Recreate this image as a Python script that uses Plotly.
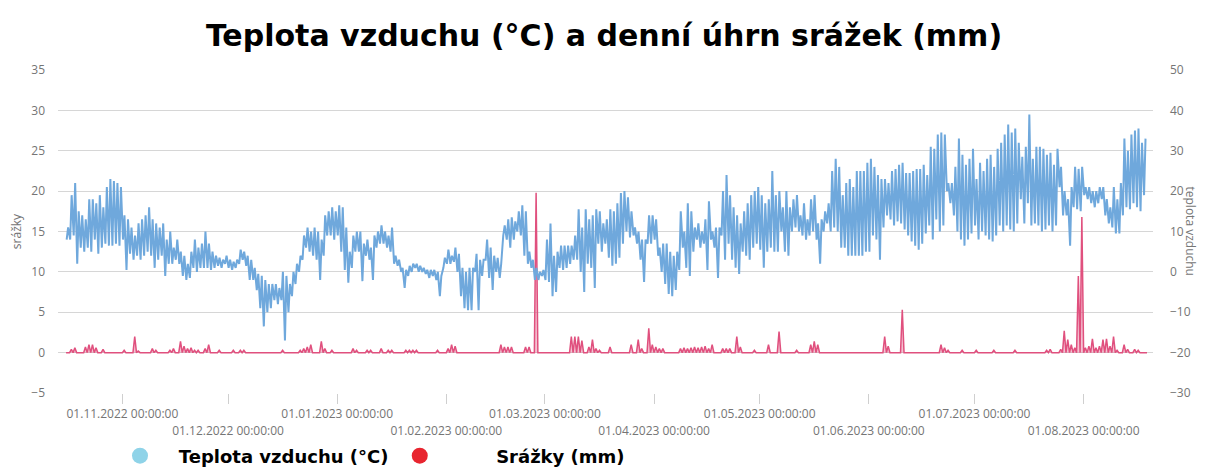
import plotly.graph_objects as go
from datetime import datetime, timedelta

# ---- air temperature: daily (high, low) in °C ----
temp_oct = [(11, 8), (19, 8), (22, 9), (15, 2), (14, 6), (13, 5), (18, 6), (18, 5), (17, 8), (19, 4.5),
            (16, 6), (21, 7), (23, 6.5), (22.5, 6.5), (22, 7), (21, 6.5)]  # from 16.10.2022
temp_nov = [(14, 8), (13, 0.5), (11, 4.5), (9, 3), (12, 4), (13, 3), (14, 4), (16, 5), (13, 4), (12, 1),
            (11, 3), (12, 4), (8, -1), (10, 2), (6, 2), (8, 3), (5, 2), (4, -1), (2, -2), (5, -1.5),
            (8, 1), (6, 0), (7, 1), (10, 1), (7, 1), (5, 0.5), (4, 1), (3.5, 1.5), (3, 1), (4, 2)]
temp_dec = [(3, 1), (2.5, 0.5), (3, 1), (5.5, 2), (5, 3), (4, 1.5), (3, -2), (1, -2), (-0.5, -4.5), (-1, -9),
            (-2, -13.5), (-3, -10), (-3, -9), (-3, -7), (-4, -8), (0, -7), (-1, -17), (-3, -10), (0, -6), (2, -3),
            (4, 0), (9, 3), (11, 6), (10, 5), (11, 4), (10, 3), (8, -2), (14, 4), (15, 9), (16, 9), (15, 8)]
temp_jan = [(16.5, 9), (16, 5), (11, 0.5), (5, -2.7), (9, 1), (10, 5), (10, 5), (7, -2.3), (8, 4), (6, 3),
            (9, -2), (10, 6), (11.5, 7), (10, 7), (9, 6), (11, 5), (4, 2), (3, 1.5), (1, 0), (0.5, -4),
            (1.5, -1), (2, 0), (2, 1), (1.5, 0), (1, 0), (0.5, -0.5), (0.5, -1.5), (0.5, -1), (0, -2), (-1, -6),
            (3.5, 1)]
temp_feb = [(5.5, 2), (4, 2), (6, 2.5), (4.5, 0), (1, -6), (0, -9), (1, -9.5), (1, -9.5), (4.5, 0), (3, -9.5),
            (3, -1), (8, 3), (6, -1.5), (4, -4.5), (3.5, 0), (2, -1.5), (11.5, 9), (13, 8), (13.5, 6), (12.5, 8),
            (15, 10), (16.5, 9), (15, 4), (5, 2), (3, 1), (1, -2), (0, -2), (0.5, -1)]
temp_mar = [(8, -2), (12, -2.5), (4, -6), (5, -5), (6.5, 1), (6.5, 0.5), (6.5, 1), (6.5, 2), (9, 3), (15.5, 3),
            (11, 0), (15.5, -5), (13, 2), (14, 1), (15.5, -4), (15, 7), (12, 5), (13, 7), (15.5, 3.5), (15, 1.5),
            (17, 2), (19.5, 3.5), (20, 7), (18.5, 10), (15, 8.5), (11, 9), (10, 7), (8, 3), (8, -2.5), (14, 7),
            (14, 7)]
temp_apr = [(13, 8), (6, 4), (7, 0), (7, -3), (5, -5.5), (4, -6), (5, -4.5), (15, 0.5), (10, 6), (17, 1),
            (15, -1), (11, 5), (12, 8), (10, 6), (13, 7), (17.5, 0.5), (10, 8), (11, 6), (11, -1.5), (20, 9),
            (24, 3), (19, 7), (16, 3), (14, 1), (12, -0.5), (15, 5), (17, 4), (19, 3), (20, 6), (21, 7)]
temp_may = [(19, 5.5), (17, 1), (18, 5), (25, 6), (19, 5), (20, 5), (16, 10), (20, 5), (16, 4), (18, 10),
            (19, 11), (14, 10), (17, 9), (13, 8), (18, 9), (19, 10), (12, 8), (13, 2), (15, 10), (17, 12),
            (25, 10), (28, 11), (26, 10), (19, 6), (22, 6), (23, 4), (21, 4), (25, 4), (25, 4), (25, 4),
            (27, 5)]
temp_jun = [(28, 5), (26, 9), (24, 8), (23, 3), (23, 11), (22, 14), (25, 13), (25.5, 11.5), (26.5, 12.5), (27, 12),
            (24.5, 10.5), (24.5, 9), (25, 7.5), (25.5, 6.5), (25.5, 5.5), (26.5, 7), (24, 9.5), (31, 11.5), (30.5, 8), (34, 13),
            (34.5, 10), (34, 11.5), (22, 20), (22, 17), (26, 14), (33, 10), (29, 8), (26.5, 6.5), (28, 8), (30.5, 9.5)]
temp_jul = [(23, 11.5), (27, 8), (25, 10), (28, 9), (29, 8), (26, 7.5), (30.5, 9), (32, 11.5), (34, 10), (36.5, 11.5),
            (34.5, 10.5), (35.5, 10), (32, 12), (28.5, 18), (31, 12), (39, 17), (28, 11.5), (31, 12), (31, 11.5), (30.5, 10),
            (29, 10.5), (29.5, 11.5), (26.5, 10), (30.5, 11.5), (26, 21), (20, 14), (18, 14), (21, 6.5), (26, 16), (25.5, 15.5),
            (26, 15)]
temp_aug = [(21, 19), (21, 18), (20, 17), (20, 16), (21, 17), (21, 18), (18, 14), (16, 12), (21, 11), (18, 9.5),
            (22, 9.5), (33, 14), (30, 16), (34, 15.5), (35, 17), (35.5, 16), (32, 15), (33, 19)]

temp_months = [("2022-10-16", temp_oct), ("2022-11-01", temp_nov), ("2022-12-01", temp_dec),
               ("2023-01-01", temp_jan), ("2023-02-01", temp_feb), ("2023-03-01", temp_mar),
               ("2023-04-01", temp_apr), ("2023-05-01", temp_may), ("2023-06-01", temp_jun),
               ("2023-07-01", temp_jul), ("2023-08-01", temp_aug)]

# ---- daily precipitation (mm), only rainy days ----
precip_dates = ["2022-10-17", "2022-10-18", "2022-10-21", "2022-10-22", "2022-10-23", "2022-10-24", "2022-10-26",
                "2022-11-01", "2022-11-04", "2022-11-05", "2022-11-09", "2022-11-10", "2022-11-14", "2022-11-15",
                "2022-11-17", "2022-11-18", "2022-11-19", "2022-11-20", "2022-11-21", "2022-11-22", "2022-11-24",
                "2022-11-25", "2022-11-28", "2022-12-02", "2022-12-04", "2022-12-05", "2022-12-16", "2022-12-21",
                "2022-12-22", "2022-12-23", "2022-12-24", "2022-12-27", "2022-12-28", "2022-12-30",
                "2023-01-05", "2023-01-06", "2023-01-09", "2023-01-10", "2023-01-13", "2023-01-15", "2023-01-16",
                "2023-01-20", "2023-01-21", "2023-01-22", "2023-01-23", "2023-01-29",
                "2023-02-01", "2023-02-02", "2023-02-03", "2023-02-16", "2023-02-17", "2023-02-18", "2023-02-19",
                "2023-02-23", "2023-02-24", "2023-02-26",
                "2023-03-08", "2023-03-09", "2023-03-10", "2023-03-11", "2023-03-13", "2023-03-14", "2023-03-15",
                "2023-03-16", "2023-03-19", "2023-03-25", "2023-03-27", "2023-03-28", "2023-03-30", "2023-03-31",
                "2023-04-01", "2023-04-02", "2023-04-03", "2023-04-08", "2023-04-09", "2023-04-10", "2023-04-11",
                "2023-04-12", "2023-04-13", "2023-04-14", "2023-04-15", "2023-04-16", "2023-04-17", "2023-04-20",
                "2023-04-21", "2023-04-22", "2023-04-24", "2023-04-25", "2023-04-29",
                "2023-05-03", "2023-05-06", "2023-05-11", "2023-05-15", "2023-05-16", "2023-05-17",
                "2023-06-05", "2023-06-06", "2023-06-10", "2023-06-21", "2023-06-22", "2023-06-23", "2023-06-27",
                "2023-07-01", "2023-07-06", "2023-07-12", "2023-07-21", "2023-07-22", "2023-07-25", "2023-07-26",
                "2023-07-27", "2023-07-28", "2023-07-29", "2023-07-30", "2023-07-31",
                "2023-08-01", "2023-08-02", "2023-08-03", "2023-08-04", "2023-08-05", "2023-08-06", "2023-08-07",
                "2023-08-08", "2023-08-09", "2023-08-10", "2023-08-12", "2023-08-13", "2023-08-15", "2023-08-16"]
precip_mm = [0.4, 0.6, 0.7, 1.0, 1.0, 0.6, 0.4,
             0.3, 2.0, 0.2, 0.5, 0.3, 0.3, 0.5,
             1.4, 0.8, 0.5, 0.6, 0.3, 0.3, 0.5,
             1.0, 0.3, 0.3, 0.3, 0.3, 0.3, 0.3,
             0.5, 0.7, 1.0, 1.4, 0.5, 0.3,
             0.5, 0.3, 0.3, 0.3, 0.5, 0.3, 0.3,
             0.3, 0.3, 0.3, 0.3, 0.3,
             0.5, 1.0, 0.8, 1.0, 0.7, 0.7, 0.7,
             0.7, 0.7, 19.8,
             2.0, 2.0, 2.0, 1.5, 0.7, 1.6, 0.5,
             0.3, 0.7, 1.0, 1.6, 0.5, 3.0, 1.0,
             0.7, 0.5, 0.5, 0.5, 0.6, 0.5, 0.6,
             0.7, 0.6, 0.7, 0.8, 0.5, 1.0, 0.5,
             0.5, 0.5, 2.0, 0.7, 0.3,
             1.0, 2.6, 0.3, 1.0, 1.4, 1.0,
             2.0, 0.8, 5.3, 1.0, 0.6, 0.3, 0.3,
             0.3, 0.3, 0.3, 0.3, 0.4, 0.4, 2.7,
             1.6, 1.0, 0.6, 9.5, 16.8,
             0.6, 0.8, 1.7, 0.6, 0.8, 1.6, 1.7,
             0.8, 2.0, 0.3, 1.0, 0.4, 0.4, 0.3]

# ---- axis labels ----
tick_dates_row1 = ["2022-11-01", "2023-01-01", "2023-03-01", "2023-05-01", "2023-07-01"]
tick_text_row1 = ["01.11.2022 00:00:00", "01.01.2023 00:00:00", "01.03.2023 00:00:00",
                  "01.05.2023 00:00:00", "01.07.2023 00:00:00"]
tick_dates_row2 = ["2022-12-01", "2023-02-01", "2023-04-01", "2023-06-01", "2023-08-01"]
tick_text_row2 = ["01.12.2022 00:00:00", "01.02.2023 00:00:00", "01.04.2023 00:00:00",
                  "01.06.2023 00:00:00", "01.08.2023 00:00:00"]

TITLE = "Teplota vzduchu (°C) a denní úhrn srážek (mm)"
NAME_T = "Teplota vzduchu (°C)"
NAME_P = "Srážky (mm)"

# ---- build series ----
t_x, t_y = [], []
for start, vals in temp_months:
    d0 = datetime.fromisoformat(start)
    for i, (hi, lo) in enumerate(vals):
        day = d0 + timedelta(days=i)
        t_x += [day + timedelta(hours=4), day + timedelta(hours=14)]
        t_y += [lo, hi]

rain = {d: v for d, v in zip(precip_dates, precip_mm)}
p_x, p_y = [], []
day = datetime(2022, 10, 16)
end = datetime(2023, 8, 19)
while day < end:
    p_x.append(day)
    p_y.append(0)
    key = day.strftime("%Y-%m-%d")
    if key in rain:
        p_x.append(day + timedelta(hours=12))
        p_y.append(rain[key])
    day += timedelta(days=1)
p_x.append(end)
p_y.append(0)

BLUE = "#6fa8dc"
PINK = "#e0507e"
GRID = "#d6d6d6"
TICKC = "#757575"
XRANGE = ["2022-10-13 17:00", "2023-08-20 17:00"]
NB = "\u00a0"

fig = go.Figure()
fig.add_trace(go.Scatter(x=t_x, y=t_y, mode="lines", line=dict(color=BLUE, width=2),
                         yaxis="y2", name=NAME_T, showlegend=False))
fig.add_trace(go.Scatter(x=p_x, y=p_y, mode="lines", line=dict(color=PINK, width=1.5),
                         fill="tozeroy", fillcolor="rgba(224,80,126,0.35)",
                         yaxis="y", name=NAME_P, showlegend=False))
# legend entries
fig.add_trace(go.Scatter(x=[None], y=[None], mode="markers", xaxis="x2", yaxis="y",
                         marker=dict(size=20, color="#8fd3e8"), name=NB * 3 + NAME_T + NB))
fig.add_trace(go.Scatter(x=[None], y=[None], mode="markers", xaxis="x2", yaxis="y",
                         marker=dict(size=20, color="#e8252f"), name=NB * 9 + NAME_P))

tickfont = dict(family="Open Sans, Liberation Sans, sans-serif", size=12, color=TICKC)

fig.update_layout(
    template="none",
    width=1208, height=471,
    margin=dict(l=58, r=55, t=70, b=78, autoexpand=False),
    paper_bgcolor="white", plot_bgcolor="white",
    title=dict(text=TITLE, x=0.5, xanchor="center", y=1 - 35 / 471, yanchor="middle",
               font=dict(family="DejaVu Sans, sans-serif", size=30, color="black", weight="bold")),
    xaxis=dict(type="date", range=XRANGE, showgrid=False, zeroline=False, showline=False, automargin=False,
               tickmode="array", tickvals=tick_dates_row1, ticktext=tick_text_row1,
               ticks="outside", ticklen=10, tickcolor="#cfcfcf", tickwidth=1, tickfont=tickfont),
    xaxis2=dict(type="date", range=XRANGE, overlaying="x", anchor="y", side="bottom", automargin=False,
                showgrid=False, zeroline=False, showline=False,
                tickmode="array", tickvals=tick_dates_row2, ticktext=tick_text_row2,
                ticks="outside", ticklen=10, tickcolor="#cfcfcf", tickwidth=1,
                ticklabelstandoff=17, tickfont=tickfont),
    yaxis=dict(range=[-5, 35], tickmode="linear", tick0=-5, dtick=5, showgrid=True, gridcolor=GRID,
               gridwidth=1, zeroline=False, showline=False, tickfont=tickfont, ticklabelstandoff=12,
               automargin=False, ticks="",
               title=dict(text="srážky", font=dict(family="Open Sans, sans-serif", size=12, color=TICKC),
                          standoff=7)),
    yaxis2=dict(range=[-30, 50], tickmode="linear", tick0=-30, dtick=10, overlaying="y", side="right",
                showgrid=False, zeroline=False, showline=False, tickfont=tickfont, ticklabelstandoff=16,
                automargin=False, ticks=""),
    legend=dict(orientation="h", xref="container", yref="container", x=120 / 1208, xanchor="left",
                y=15 / 471, yanchor="middle", font=dict(family="DejaVu Sans, sans-serif",
                                                         size=18, color="black", weight="bold"),
                itemsizing="trace", bgcolor="rgba(0,0,0,0)", borderwidth=0),
    showlegend=True,
)
fig.add_annotation(text="teplota vzduchu", textangle=90, xref="paper", yref="paper",
                   x=(1201 - 58) / 1095, y=(393 - 231) / 323, showarrow=False,
                   font=dict(family="Open Sans, sans-serif", size=12, color=TICKC))

fig.write_html("out.html", config={"displayModeBar": False},
               post_script="document.body.style.margin='0px';")
